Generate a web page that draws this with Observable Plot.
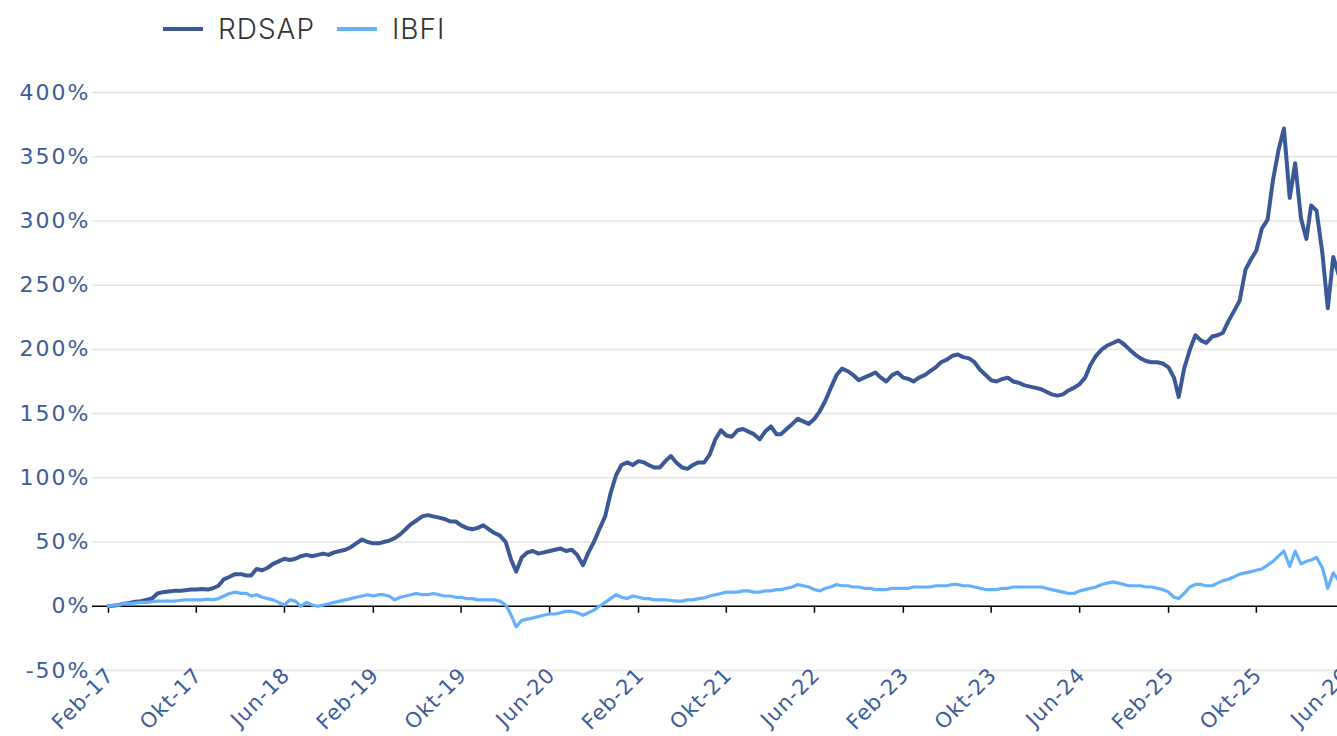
<!DOCTYPE html>
<html><head><meta charset="utf-8">
<script src="https://cdn.jsdelivr.net/npm/d3@7"></script>
<script src="https://cdn.jsdelivr.net/npm/@observablehq/plot@0.6"></script>
<style>
html,body{margin:0;padding:0;background:#fff;overflow:hidden;}
#legend{position:relative;height:60px;font-family:Inter,"Open Sans",sans-serif;font-size:28px;font-weight:300;color:#333;}
.sw{position:absolute;top:27px;width:40px;height:4px;}
.lt{position:absolute;top:12px;line-height:34px;letter-spacing:1px;}
#chart svg{overflow:hidden;display:block;}
#chart g[aria-label="y-axis tick label"] text{letter-spacing:2px;}
#chart g[aria-label="x-axis tick label"] text{letter-spacing:1px;}
</style></head><body>
<div id="legend"></div>
<div id="chart"></div>
<script>
const seriesNames = ["RDSAP", "IBFI"];
const seriesColors = ["#3b5897", "#64b0fd"];
const axisColor = "#3d5b99";
// semi-monthly observations starting 2017-02-01 (1st and 16th of each month), in %
const startDate = "2017-02-01";
const rdsap = [
0,0.5,1,2,2.5,3.5,4,5,6,10,11,11.5,12,12,12.5,13,13,13.5,13,14,
16,21,23,25,25,24,24,29,28,30,33,35,37,36,37,39,40,39,40,41,
40,42,43,44,46,49,52,50,49,49,50,51,53,56,60,64,67,70,71,70,
69,68,66,66,63,61,60,61,63,60,57,55,50,36,27,38,42,43,41,42,
43,44,45,43,44,40,32,42,50,60,70,88,102,110,112,110,113,112,110,108,
108,113,117,112,108,107,110,112,112,118,130,137,133,132,137,138,136,134,130,136,
140,134,134,138,142,146,144,142,146,152,160,170,180,185,183,180,176,178,180,182,
178,175,180,182,178,177,175,178,180,183,186,190,192,195,196,194,193,190,184,180,
176,175,177,178,175,174,172,171,170,169,167,165,164,165,168,170,173,178,188,195,
200,203,205,207,204,200,196,193,191,190,190,189,186,178,163,185,200,211,207,205,
210,211,213,222,230,238,262,270,277,294,301,332,355,372,318,345,302,286,312,308,
275,232,272,258
];
const ibfi = [
0,1,1,2,2,2.5,3,3,3.5,4,4,4,4,4.5,5,5,5,5,5.5,5,
6,8,10,11,10,10,8,9,7,6,5,3,1,5,4,0,3,1,0,1,
2,3,4,5,6,7,8,9,8,9,9,8,5,7,8,9,10,9,9,10,
9,8,8,7,7,6,6,5,5,5,5,4,1,-7,-16,-11,-10,-9,-8,-7,
-6,-6,-5,-4,-4,-5,-7,-5,-3,0,3,6,9,7,6,8,7,6,6,5,
5,5,4.5,4,4,5,5,6,6.5,8,9,10,11,11,11,12,12,11,11,12,
12,13,13,14,15,17,16,15,13,12,14,15,17,16,16,15,15,14,14,13,
13,13,14,14,14,14,15,15,15,15,16,16,16,17,17,16,16,15,14,13,
13,13,14,14,15,15,15,15,15,15,14,13,12,11,10,10,12,13,14,15,
17,18,19,18,17,16,16,16,15,15,14,13,11,7,6,10,15,17,17,16,
16,18,20,21,23,25,26,27,28,29,32,35,39,43,31,43,33,35,36,38,
30,14,26,20
];
const yTicks = [-50, 0, 50, 100, 150, 200, 250, 300, 350, 400];
const xTickDates = ["2017-02-01","2017-10-01","2018-06-01","2019-02-01","2019-10-01","2020-06-01","2021-02-01","2021-10-01","2022-06-01","2023-02-01","2023-10-01","2024-06-01","2025-02-01","2025-10-01","2026-06-01"].map(s => new Date(s + "T00:00:00Z"));
const monthNamesDe = ["Jan","Feb","Mär","Apr","Mai","Jun","Jul","Aug","Sep","Okt","Nov","Dez"];

const start = new Date(startDate + "T00:00:00Z");
function dateAt(i) {
  const d = d3.utcMonth.offset(start, Math.floor(i / 2));
  return i % 2 ? d3.utcDay.offset(d, 15) : d;
}
const data = [];
[rdsap, ibfi].forEach((arr, k) => arr.forEach((v, i) => data.push({date: dateAt(i), value: v, series: seriesNames[k]})));

// legend
const legend = document.getElementById("legend");
const swLeft = [163, 337], txLeft = [218, 392];
seriesNames.forEach((n, k) => {
  const sw = document.createElement("div"); sw.className = "sw";
  sw.style.left = swLeft[k] + "px"; sw.style.background = seriesColors[k];
  const t = document.createElement("div"); t.className = "lt";
  t.style.left = txLeft[k] + "px"; t.textContent = n;
  legend.append(sw, t);
});

const fmtX = d => monthNamesDe[d.getUTCMonth()] + "-" + String(d.getUTCFullYear()).slice(2);

const chart = Plot.plot({
  width: 1337, height: 676,
  marginLeft: 92, marginRight: 0, marginTop: 32, marginBottom: 66,
  x: {type: "utc", domain: [new Date("2017-02-01T00:00:00Z"), new Date("2026-06-01T00:00:00Z")], range: [108, 1344], label: null},
  y: {domain: [-50, 400], label: null},
  style: {fontFamily: "'DejaVu Sans', Verdana, sans-serif", fontSize: "22px", background: "white"},
  marks: [
    Plot.ruleY(yTicks.filter(d => d !== 0), {stroke: "#e4e4e4", strokeWidth: 1.5}),
    Plot.axisY({ticks: yTicks, tickSize: 0, tickPadding: 2, tickFormat: d => d + "%", fill: axisColor, fontSize: 22, label: null}),
    Plot.ruleY([0], {stroke: "#000", strokeWidth: 1.5}),
    Plot.ruleX(xTickDates, {x: d => d, y1: 0, y2: -5.45, stroke: "#000", strokeWidth: 1.5}),
    Plot.axisX({ticks: xTickDates, tickSize: 0, tickPadding: 1, tickRotate: -45, tickFormat: fmtX, fill: axisColor, fontSize: 21, label: null, dx: 2}),
    Plot.line(data.filter(d => d.series === "RDSAP"), {x: "date", y: "value", stroke: seriesColors[0], strokeWidth: 4}),
    Plot.line(data.filter(d => d.series === "IBFI"), {x: "date", y: "value", stroke: seriesColors[1], strokeWidth: 3.2}),
  ]
});
document.getElementById("chart").append(chart);
</script>
</body></html>
